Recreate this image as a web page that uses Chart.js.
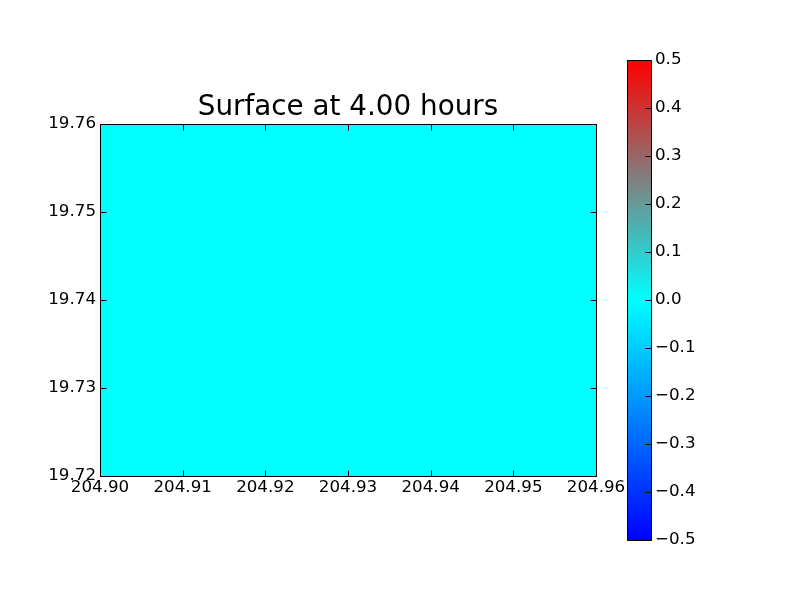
<!DOCTYPE html>
<html>
<head>
<meta charset="utf-8">
<script src="https://cdn.jsdelivr.net/npm/chart.js@4.4.1/dist/chart.umd.min.js"></script>
<style>
  body { margin: 0; background: #fff; }
  .wrap { position: relative; width: 800px; height: 600px; }
  #surface { position: absolute; left: 0; top: 0; }
  #colorbar { position: absolute; left: 600px; top: 0; }
</style>
</head>
<body>
<div class="wrap">
  <canvas id="surface" width="800" height="600"></canvas>
  <canvas id="colorbar" width="200" height="600"></canvas>
</div>
<script>
const titleText = "Surface at 4.00 hours";
const xTicks = [204.90, 204.91, 204.92, 204.93, 204.94, 204.95, 204.96];
const yTicks = [19.72, 19.73, 19.74, 19.75, 19.76];
// surface cell: one flat cell over the whole grid
const cellX = [204.90, 204.96];
const cellTop = [19.76, 19.76];
const cellValue = [0];
const cbRange = [-0.5, 0.5];
const cbTicks = [-0.5, -0.4, -0.3, -0.2, -0.1, 0, 0.1, 0.2, 0.3, 0.4, 0.5];
const cmapValues = [-0.5, 0, 0.5];
const cmapColors = [[0, 0, 255], [0, 255, 255], [255, 0, 0]];

Chart.defaults.font.family = "'DejaVu Sans', sans-serif";
Chart.defaults.color = "#000";

const tickFont = { family: "'DejaVu Sans', sans-serif", size: 16.7 };

const colorAt = (v) => {

  let i = 0;
  while (i < cmapValues.length - 2 && v > cmapValues[i + 1]) i++;
  const t = Math.min(1, Math.max(0, (v - cmapValues[i]) / (cmapValues[i + 1] - cmapValues[i])));
  const c = cmapColors[i].map((a, k) => Math.round(a + (cmapColors[i + 1][k] - a) * t));

  return `rgb(${c[0]}, ${c[1]}, ${c[2]})`;

};

const crisp = (v) => Math.round(v) + 0.5;

// black frame + inward tick marks, matplotlib style
const framePlugin = {
  id: "frame",
  afterDatasetsDraw (chart) {

    const { ctx, chartArea: a, scales } = chart;
    const L = crisp(a.left), R = crisp(a.right), T = crisp(a.top), B = crisp(a.bottom);
    ctx.save();
    ctx.strokeStyle = "#000";
    ctx.lineWidth = 1;
    ctx.beginPath();
    ctx.rect(L, T, R - L, B - T);
    scales.x.ticks.forEach((t) => {
      const x = crisp(scales.x.getPixelForValue(t.value));
      ctx.moveTo(x, B); ctx.lineTo(x, B - 6);
      ctx.moveTo(x, T); ctx.lineTo(x, T + 6);
    });
    scales.y.ticks.forEach((t) => {
      const y = crisp(scales.y.getPixelForValue(t.value));
      ctx.moveTo(L, y); ctx.lineTo(L + 6, y);
      ctx.moveTo(R, y); ctx.lineTo(R - 6, y);
    });
    ctx.stroke();
    ctx.restore();

  },
};

new Chart(document.getElementById("surface"), {
  type: "line",
  data: {
    datasets: [
      {
        data: cellX.map((x, i) => ({ x, y: cellTop[i] })),
        fill: "start",
        backgroundColor: colorAt(cellValue[0]),
        borderWidth: 0,
        pointRadius: 0,
      },
    ],
  },
  options: {
    responsive: false,
    animation: false,
    layout: {
      padding: { top: 0, right: 204, bottom: 0, left: 0 },
    },
    plugins: {
      legend: { display: false },
      tooltip: { enabled: false },
      title: {
        display: true,
        text: titleText,
        fullSize: false,
        color: "#000",
        font: { size: 27.8, weight: "normal", lineHeight: 1.2 },
        padding: { top: 90.64, bottom: 0 },
      },
    },
    scales: {
      x: {
        type: "linear",
        min: xTicks[0],
        max: xTicks[xTicks.length - 1],
        afterBuildTicks (scale) {

          scale.ticks = xTicks.map((value) => ({ value }));

        },
        afterFit (scale) {

          scale.height = 124;

        },
        grid: { display: false, drawTicks: false },
        border: { display: false },
        ticks: {
          autoSkip: false,
          maxRotation: 0,
          padding: 1.5,
          font: tickFont,
          color: "#000",
          callback (value) {

            return value.toFixed(2);

          },
        },
      },
      y: {
        type: "linear",
        min: yTicks[0],
        max: yTicks[yTicks.length - 1],
        afterBuildTicks (scale) {

          scale.ticks = yTicks.map((value) => ({ value }));

        },
        afterFit (scale) {

          scale.width = 100;

        },
        grid: { display: false, drawTicks: false },
        border: { display: false },
        ticks: {
          autoSkip: false,
          padding: 4,
          font: tickFont,
          color: "#000",
          callback (value) {

            return value.toFixed(2);

          },
        },
      },
    },
  },
  plugins: [framePlugin],
});

// colorbar outline + inward ticks on the right edge
const cbFramePlugin = {
  id: "cbFrame",
  afterDatasetsDraw (chart) {

    const { ctx, chartArea: a, scales } = chart;
    const L = crisp(a.left), R = crisp(a.right), T = crisp(a.top), B = crisp(a.bottom);
    ctx.save();
    ctx.strokeStyle = "#000";
    ctx.lineWidth = 1;
    ctx.beginPath();
    ctx.rect(L, T, R - L, B - T);
    scales.y.ticks.forEach((t) => {
      const y = crisp(scales.y.getPixelForValue(t.value));
      ctx.moveTo(R, y); ctx.lineTo(R - 6, y);
    });
    ctx.stroke();
    ctx.restore();

  },
};

new Chart(document.getElementById("colorbar"), {
  type: "bar",
  data: {
    labels: [""],
    datasets: [
      {
        data: [cbRange],
        barPercentage: 1,
        categoryPercentage: 1,
        borderWidth: 0,
        backgroundColor: (context) => {

          const { chart } = context;
          const { ctx, chartArea, scales } = chart;
          if (!chartArea) return;
          const y0 = scales.y.getPixelForValue(cbRange[0]);
          const y1 = scales.y.getPixelForValue(cbRange[1]);
          const gradient = ctx.createLinearGradient(0, y0, 0, y1);
          cmapValues.forEach((v) => {
            gradient.addColorStop((v - cbRange[0]) / (cbRange[1] - cbRange[0]), colorAt(v));
          });

          return gradient;

        },
      },
    ],
  },
  options: {
    responsive: false,
    animation: false,
    layout: {
      padding: { top: 60, right: 0, bottom: 60, left: 27 },
    },
    plugins: {
      legend: { display: false },
      tooltip: { enabled: false },
    },
    scales: {
      x: { display: false },
      y: {
        position: "right",
        min: cbRange[0],
        max: cbRange[1],
        afterBuildTicks (scale) {

          scale.ticks = cbTicks.map((value) => ({ value }));

        },
        afterFit (scale) {

          scale.width = 149;

        },
        grid: { display: false, drawTicks: false },
        border: { display: false },
        ticks: {
          autoSkip: false,
          padding: 4,
          font: tickFont,
          color: "#000",
          callback (value) {

            const s = Math.abs(value) < 1e-9 ? "0.0" : value.toFixed(1);

            return s.replace("-", "\u2212");

          },
        },
      },
    },
  },
  plugins: [cbFramePlugin],
});
</script>
</body>
</html>
